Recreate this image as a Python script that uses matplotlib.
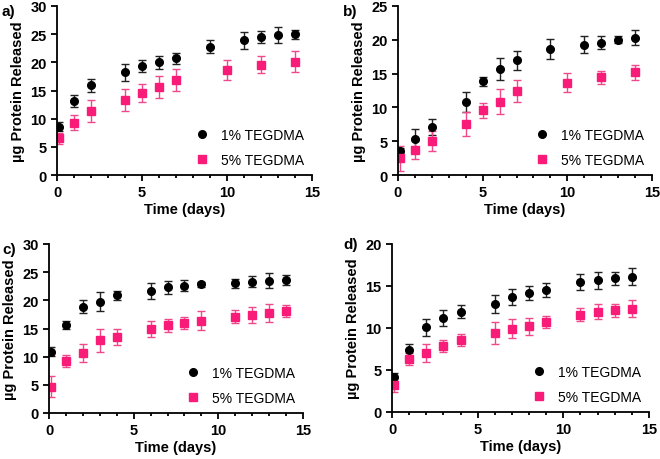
import numpy as np
from matplotlib import pyplot as plt
from matplotlib.ticker import MultipleLocator
from matplotlib.lines import Line2D

plt.rcParams['font.family'] = ['Liberation Sans', 'DejaVu Sans']

# time points (days)
t_a = [0.1, 1, 2, 4, 5, 6, 7, 9, 11, 12, 13, 14]
t_a5 = [0.1, 1, 2, 4, 5, 6, 7, 10, 12, 14]
t_c = [0.1, 1, 2, 3, 4, 6, 7, 8, 9, 11, 12, 13, 14]

# panel a
a1 = [8.6, 13.1, 15.9, 18.2, 19.4, 20.0, 20.7, 22.8, 23.9, 24.5, 24.8, 25.0]
a1_err = [0.8, 1.1, 1.2, 1.5, 1.1, 1.1, 1.0, 1.1, 1.5, 1.0, 1.4, 0.8]
a5 = [6.5, 9.3, 11.35, 13.3, 14.6, 15.6, 16.9, 18.7, 19.6, 20.1]
a5_err = [1.0, 1.3, 1.9, 1.9, 1.6, 2.0, 1.9, 1.8, 1.5, 1.9]

# panel b
b1 = [3.55, 5.3, 7.1, 10.85, 13.85, 15.7, 16.95, 18.6, 19.3, 19.6, 20.0, 20.3]
b1_err = [0.5, 1.5, 1.2, 1.5, 0.65, 1.6, 1.4, 1.5, 1.2, 1.0, 0.5, 1.1]
b5 = [2.47, 3.7, 4.98, 7.5, 9.57, 10.85, 12.4, 13.66, 14.45, 15.2]
b5_err = [1.85, 1.3, 1.5, 1.8, 1.1, 1.8, 1.6, 1.45, 1.0, 1.1]

# panel c
c1 = [10.9, 15.56, 18.9, 19.76, 20.9, 21.6, 22.3, 22.6, 22.84, 23.0, 23.3, 23.5, 23.6]
c1_err = [0.8, 0.7, 1.1, 1.65, 0.8, 1.4, 1.15, 0.95, 0.5, 0.75, 0.95, 1.35, 0.9]
c5 = [4.67, 9.3, 10.7, 12.9, 13.5, 14.9, 15.56, 16.0, 16.4, 17.1, 17.4, 17.75, 18.1]
c5_err = [1.9, 1.05, 1.6, 2.0, 1.5, 1.35, 1.1, 1.1, 1.65, 1.2, 1.5, 1.6, 1.1]

# panel d
d1 = [4.16, 7.4, 10.1, 11.2, 11.96, 12.83, 13.66, 14.18, 14.53, 15.45, 15.7, 15.9, 16.1]
d1_err = [0.5, 0.7, 1.0, 1.0, 0.8, 1.05, 0.97, 0.87, 0.8, 0.95, 1.0, 0.8, 1.0]
d5 = [3.25, 6.3, 7.0, 7.9, 8.55, 9.4, 9.94, 10.2, 10.7, 11.56, 11.96, 12.1, 12.3]
d5_err = [0.85, 0.7, 1.07, 0.7, 0.75, 1.3, 1.17, 1.0, 0.67, 0.78, 0.94, 0.75, 1.0]

labels = ['1% TEGDMA', '5% TEGDMA']
pink = '#F81C78'
pink_err = '#EE4A8B'

W, H = 660, 460
fig = plt.figure(figsize=(6.6, 4.6), dpi=100)


def make_ax(l, r, t, b):
    return fig.add_axes([l / W, 1 - b / H, (r - l) / W, (b - t) / H])


panels = [
    ('a)', (57, 312, 7, 176), t_a, a1, a1_err, t_a5, a5, a5_err, 30, (2, 12)),
    ('b)', (398, 652, 7, 176), t_a, b1, b1_err, t_a5, b5, b5_err, 25, (343, 12)),
    ('c)', (49, 303, 245, 414), t_c, c1, c1_err, t_c, c5, c5_err, 30, (2, 250)),
    ('d)', (392, 649, 245, 413), t_c, d1, d1_err, t_c, d5, d5_err, 20, (343, 245)),
]

handles = [
    Line2D([], [], ls='none', marker='o', color='black', ms=5.5),
    Line2D([], [], ls='none', marker='s', color=pink, ms=5.5),
]

for tag, box, x1, y1, e1, x5, y5, e5, ymax, lab in panels:
    ax = make_ax(*box)
    ax.errorbar(x1, y1, yerr=e1, fmt='o', color='black', ecolor='#222222',
                ms=5.5, elinewidth=1.0, capsize=3, capthick=1.0)
    ax.errorbar(x5, y5, yerr=e5, fmt='s', color=pink, ecolor=pink_err,
                ms=5.5, elinewidth=1.0, capsize=3, capthick=1.0)
    ax.set_xlim(0, 15)
    ax.set_ylim(0, ymax)
    ax.xaxis.set_major_locator(MultipleLocator(5))
    ax.xaxis.set_minor_locator(MultipleLocator(1))
    ax.yaxis.set_major_locator(MultipleLocator(5))
    ax.spines['top'].set_visible(False)
    ax.spines['right'].set_visible(False)
    for s in ('left', 'bottom'):
        ax.spines[s].set_linewidth(1.3)
    ax.tick_params(which='major', length=4, width=1.3, labelsize=10.5)
    ax.tick_params(which='minor', length=2.5, width=1.3)
    for lbl in ax.get_xticklabels() + ax.get_yticklabels():
        lbl.set_fontweight('bold')
    ax.set_xlabel('Time (days)', fontsize=10.5, fontweight='bold', labelpad=2)
    ax.set_ylabel('µg Protein Released', fontsize=10.5, fontweight='bold', labelpad=4)
    ax.legend(handles, labels, loc='lower right', bbox_to_anchor=(1.0, 0.0),
              frameon=False, fontsize=10, handletextpad=0.6, labelspacing=0.75,
              borderaxespad=0.2, handlelength=1.5)
    fig.text(lab[0] / W, 1 - lab[1] / H, tag, fontsize=11, fontweight='bold',
             ha='left', va='center')

fig.savefig('out.png', dpi=100)
